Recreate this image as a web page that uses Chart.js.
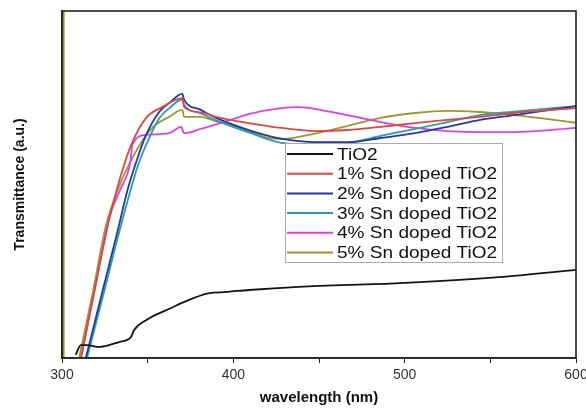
<!DOCTYPE html>
<html lang="en">
<head>
    <meta charset="UTF-8">
    <title>Transmittance of Sn doped TiO2</title>
    <script src="https://cdn.jsdelivr.net/npm/chart.js"></script>
    <style>
        body {
            margin: 0;
            background-color: #ffffff;
        }
        #chart-container {
            width: 586px;
            height: 411px;
        }
    </style>
</head>
<body>
    <div id="chart-container">
        <canvas id="transChart"></canvas>
    </div>

    <script>
        // x tick labels (nm)
        const xTicks = [300, 400, 500, 600];

        // TiO2 (black)
        const wlTiO2 = [308, 311, 314.6, 321.6, 327.5, 333.3, 340.2, 342, 349, 365, 370, 386, 395, 409, 438, 497, 555, 600];
        const tTiO2  = [0.9, 3.7, 3.7, 3.2, 3.7, 4.6, 6, 8, 10.9, 14.7, 15.9, 18.7, 19, 19.6, 20.5, 21.6, 23.3, 25.4];

        // 1% Sn doped TiO2 (red)
        const wlSn1 = [311.1, 319, 327.5, 334, 340.4, 349.1, 358.5, 370.2, 371.3, 381, 390, 409, 428, 448, 467, 486, 506, 525, 544, 564, 600];
        const tSn1  = [0, 19.5, 39.8, 52, 61.4, 69.2, 72.3, 74.9, 72.3, 70.8, 69.5, 67.7, 66.3, 65.4, 65.7, 66.6, 67.7, 68.6, 69.5, 70.6, 72];

        // 2% Sn doped TiO2 (blue)
        const wlSn2 = [313.9, 323, 333.3, 338, 343.3, 349.1, 356.7, 362.6, 370.2, 371.3, 381, 390, 409, 428, 448, 467, 486, 506, 525, 544, 564, 600];
        const tSn2  = [0, 18, 38.3, 48, 56.5, 64.3, 70.9, 73.5, 76.1, 74.4, 71.5, 69.2, 65.7, 63.2, 62.2, 62.2, 63.4, 64.8, 66.6, 68.6, 70, 72.6];

        // 3% Sn doped TiO2 (teal)
        const wlSn3 = [314.6, 324, 334.5, 344.4, 350.9, 356.7, 362.6, 370.2, 371.3, 381, 390, 409, 428, 448, 467, 486, 506, 525, 544, 564, 600];
        const tSn3  = [0, 18, 38.3, 55.6, 63.4, 69, 72, 74.5, 73, 70.5, 68.5, 65, 62, 61.5, 62, 64, 66, 68, 70, 71, 72.6];

        // 4% Sn doped TiO2 (magenta)
        const wlSn4 = [311, 319, 327.5, 334, 339.2, 340.4, 341, 349.1, 362.6, 369.6, 371.3, 381, 390, 402, 409, 428, 438, 457, 486, 506, 525, 544, 564, 600];
        const tSn4  = [0, 19.5, 40.3, 48.5, 54.8, 58.5, 61.4, 64.3, 64.8, 66.6, 64.8, 66, 67.3, 69.2, 70.3, 72, 72.3, 70.9, 68, 66.3, 65.4, 65.1, 65.1, 66.3];

        // 5% Sn doped TiO2 (olive)
        const wlSn5 = [310, 318, 325.7, 333, 341, 352.6, 362.6, 370.2, 371.3, 381, 390, 402, 409, 419, 428, 438, 457, 486, 506, 525, 544, 564, 600];
        const tSn5  = [0, 19, 38.3, 49, 57.6, 66.3, 69.5, 71.5, 69.5, 69.5, 68.2, 66.6, 65.4, 63.6, 63.1, 63.7, 65.7, 69.2, 70.6, 71.2, 70.9, 70, 67.8];

        function toPoints(xs, ys) {
            return xs.map((x, i) => ({ x: x, y: ys[i] }));
        }

        // frame round the plot area, left edge has the olive tint
        const framePlugin = {
            id: 'frame',
            afterDatasetsDraw(chart) {
                const { ctx, chartArea: a } = chart;
                ctx.save();
                ctx.strokeStyle = '#8c8c2a';
                ctx.lineWidth = 1.5;
                ctx.beginPath();
                ctx.moveTo(a.left + 1.8, a.top);
                ctx.lineTo(a.left + 1.8, a.bottom);
                ctx.stroke();
                ctx.strokeStyle = '#222';
                ctx.lineWidth = 1.6;
                ctx.strokeRect(a.left, a.top, a.right - a.left, a.bottom - a.top);
                ctx.restore();
            }
        };

        // legend box inside the plot
        const boxLegend = {
            id: 'boxLegend',
            afterDraw(chart) {
                const { ctx } = chart;
                const x0 = 285, y0 = 143, w = 217, h = 119;
                ctx.save();
                ctx.fillStyle = '#fff';
                ctx.fillRect(x0, y0, w, h);
                ctx.strokeStyle = '#aaa';
                ctx.lineWidth = 1;
                ctx.strokeRect(x0 + 0.5, y0 + 0.5, w, h);
                chart.data.datasets.forEach((ds, i) => {
                    const y = y0 + 11 + i * 19.7;
                    ctx.strokeStyle = ds.borderColor;
                    ctx.lineWidth = 2;
                    ctx.beginPath();
                    ctx.moveTo(x0 + 2, y);
                    ctx.lineTo(x0 + 48, y);
                    ctx.stroke();
                    ctx.save();
                    ctx.translate(x0 + 52, y + 1);
                    ctx.scale(1.12, 1);
                    ctx.fillStyle = '#111';
                    ctx.font = '17px Arial, "Liberation Sans", sans-serif';
                    ctx.textBaseline = 'middle';
                    ctx.fillText(ds.label, 0, 0);
                    ctx.restore();
                });
                ctx.restore();
            }
        };

        const series = [
            { label: 'TiO2', data: toPoints(wlTiO2, tTiO2), color: '#141414' },
            { label: '1% Sn doped TiO2', data: toPoints(wlSn1, tSn1), color: '#e0473c' },
            { label: '2% Sn doped TiO2', data: toPoints(wlSn2, tSn2), color: '#2237b0' },
            { label: '3% Sn doped TiO2', data: toPoints(wlSn3, tSn3), color: '#2a9ea8' },
            { label: '4% Sn doped TiO2', data: toPoints(wlSn4, tSn4), color: '#e03fe6' },
            { label: '5% Sn doped TiO2', data: toPoints(wlSn5, tSn5), color: '#9a9a2e' }
        ];

        const ctx = document.getElementById('transChart').getContext('2d');
        new Chart(ctx, {
            type: 'line',
            data: {
                datasets: series.map(s => ({
                    label: s.label,
                    data: s.data,
                    borderColor: s.color,
                    backgroundColor: s.color,
                    borderWidth: 1.8,
                    pointRadius: 0,
                    cubicInterpolationMode: 'monotone',
                    fill: false
                }))
            },
            options: {
                responsive: true,
                maintainAspectRatio: false,
                animation: false,
                layout: {
                    padding: { top: 11, right: 10, left: 0, bottom: 0 }
                },
                plugins: {
                    legend: { display: false },
                    tooltip: { enabled: false }
                },
                scales: {
                    x: {
                        type: 'linear',
                        min: 300,
                        max: 600,
                        afterFit: s => {
                            s.height = 53;
                            s.paddingLeft = 0;
                            s.paddingRight = 0;
                        },
                        ticks: {
                            stepSize: 50,
                            autoSkip: false,
                            maxRotation: 0,
                            padding: 4,
                            color: '#333',
                            font: { family: 'Arial, "Liberation Sans", sans-serif', size: 14 },
                            callback: v => xTicks.includes(v) ? v : ''
                        },
                        grid: {
                            drawOnChartArea: false,
                            drawTicks: true,
                            tickLength: 5,
                            tickColor: '#222'
                        },
                        border: { color: '#222', width: 1.6 },
                        title: {
                            display: true,
                            text: 'wavelength (nm)',
                            color: '#111',
                            padding: { top: 4, bottom: 4 },
                            font: { family: 'Arial, "Liberation Sans", sans-serif', size: 15, weight: 'bold' }
                        }
                    },
                    y: {
                        min: 0,
                        max: 100,
                        afterFit: s => { s.width = 62; },
                        ticks: { display: false },
                        grid: { display: false },
                        border: { color: '#222', width: 1.6 },
                        title: {
                            display: true,
                            text: 'Transmittance (a.u.)',
                            color: '#111',
                            padding: { top: 12, bottom: 0 },
                            font: { family: 'Arial, "Liberation Sans", sans-serif', size: 14, weight: 'bold' }
                        }
                    }
                }
            },
            plugins: [framePlugin, boxLegend]
        });
    </script>
</body>
</html>
